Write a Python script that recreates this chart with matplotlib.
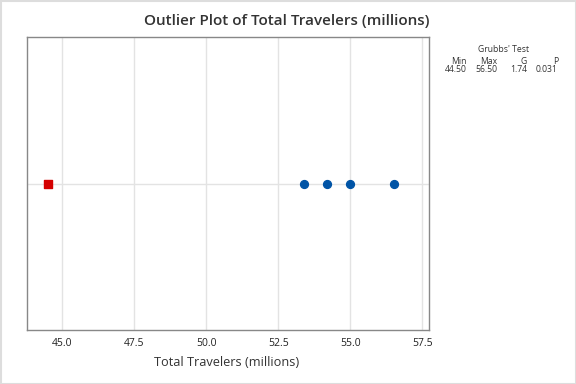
import matplotlib.pyplot as plt
from matplotlib.patches import Rectangle

plt.rcParams["font.family"] = ["Open Sans", "DejaVu Sans"]

# data
outliers = [44.5]
others = [53.4, 54.2, 55.0, 56.5]
test_headers = ["Min", "Max", "G", "P"]
test_values = ["44.50", "56.50", "1.74", "0.031"]
xticks = [45.0, 47.5, 50.0, 52.5, 55.0, 57.5]

fig = plt.figure(figsize=(5.76, 3.84), dpi=100)
ax = fig.add_axes([26.5 / 576, 1 - 330 / 384, (429 - 26.5) / 576, (330 - 37) / 384])

ax.scatter(others, [0] * len(others), marker="o", s=32, color="#0054A6", zorder=3)
ax.scatter(outliers, [0] * len(outliers), marker="s", s=36, color="#D40000", zorder=3)
ax.axhline(0, color="#e3e3e3", lw=1, zorder=1)

ax.set_xlim(43.76, 57.73)
ax.set_ylim(-1, 1)
ax.set_xticks(xticks)
ax.set_xticklabels([f"{t:.1f}" for t in xticks], fontsize=7.5, color="#222222")
ax.set_yticks([])
ax.grid(axis="x", color="#e3e3e3", lw=1)
ax.set_axisbelow(True)
ax.tick_params(axis="x", length=0, pad=6)
for sp in ax.spines.values():
    sp.set_color("#888888")
    sp.set_linewidth(1)

fig.text(227 / 576, 1 - 363 / 384, "Total Travelers (millions)", fontsize=9.2,
         color="#333333", ha="center", va="center")
fig.text(286.5 / 576, 1 - 21 / 384, "Outlier Plot of Total Travelers (millions)",
         fontsize=11, color="#333333", ha="center", va="center", weight="semibold")

# Grubbs' test table
fig.text(503 / 576, 1 - 50 / 384, "Grubbs' Test", fontsize=6.2, ha="center", va="center", color="#333333")
cols = [467, 497, 527, 558]
for cx, h, v in zip(cols, test_headers, test_values):
    fig.text(cx / 576, 1 - 61 / 384, h, fontsize=6.2, ha="right", va="center", color="#333333")
    fig.text(cx / 576, 1 - 70 / 384, v, fontsize=6.2, ha="right", va="center", color="#333333")

fig.patches.append(Rectangle((0.5 / 576, 0.5 / 384), 575 / 576, 383 / 384, transform=fig.transFigure,
                             fill=False, edgecolor="#dddddd", lw=1.5))

fig.savefig("out.png", dpi=100)
